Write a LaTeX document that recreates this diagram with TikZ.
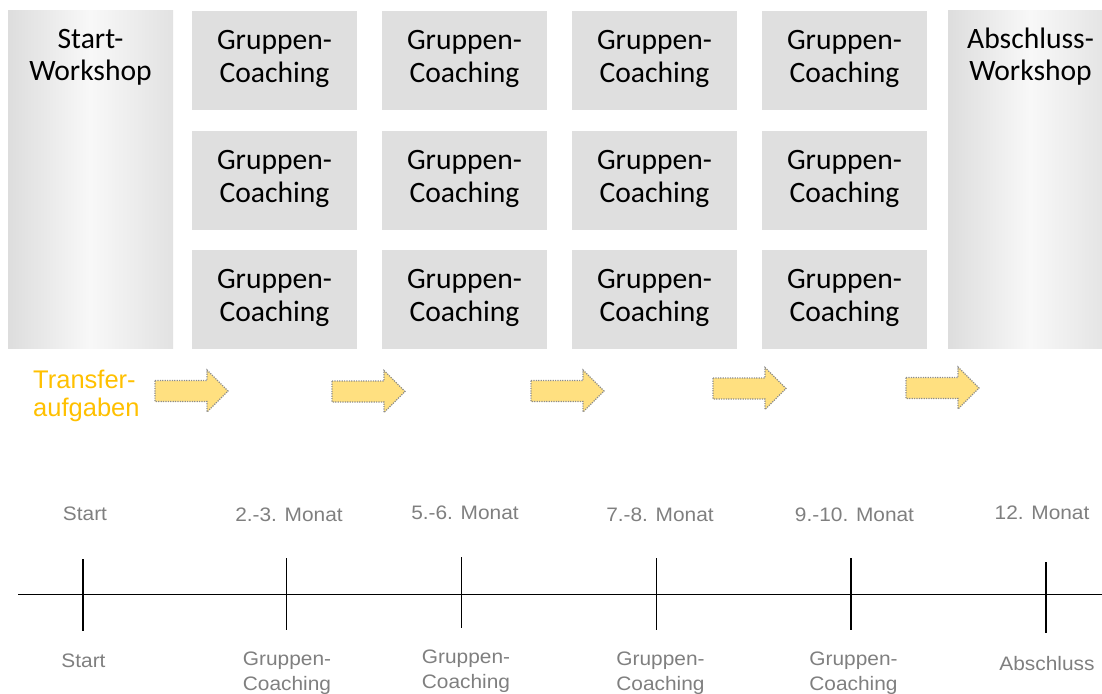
\documentclass[tikz,border=0pt]{standalone}
\usepackage{fontspec}
\setmainfont{Carlito}
\newfontfamily\arialS[FakeStretch=1.07]{Liberation Sans}
\newfontfamily\arialN{Liberation Sans}
\usetikzlibrary{calc}
\definecolor{boxgray}{RGB}{223,223,223}
\definecolor{arrowfill}{RGB}{255,224,128}
\definecolor{arrowline}{RGB}{140,140,140}
\definecolor{transor}{RGB}{255,192,0}
\definecolor{labelgray}{RGB}{127,127,127}
\definecolor{sideL}{RGB}{221,221,221}
\definecolor{sideR}{RGB}{226,226,226}
\definecolor{sideM}{RGB}{248,248,248}
\newcommand\twoline[2]{\begin{tabular}[t]{@{}c@{}}#1\\#2\end{tabular}}
\newcommand\twolineL[2]{\begin{tabular}[t]{@{}l@{}}#1\\#2\end{tabular}}
\newcommand\blockarr[3]{%
  \draw[tarrow, shift={(#2,#3)}] (0,-10.5) -- (52,-10.5) -- (52,-21) -- (73,0)
    -- (52,21) -- (52,10.5) -- (0,10.5) -- cycle;
  \coordinate (#1) at (#2,#3);}
\tikzset{
  gbox/.style={rectangle, fill=boxgray, draw=none, minimum width=165pt,
    minimum height=99pt, inner sep=0pt, outer sep=0pt},
  sidebox/.style={rectangle, left color=sideL, right color=sideR, middle color=sideM,
    draw=none, minimum width=165pt, minimum height=337pt, inner sep=0pt, outer sep=0pt},
  btxt/.style={anchor=base, inner sep=0pt, text=black, font=\fontsize{29.6}{32.5}\selectfont},
  tarrow/.style={fill=arrowfill, draw=arrowline, line width=1.2pt, dash pattern=on 1.2pt off 1.2pt},
  tlabel/.style={anchor=base, inner sep=0pt, text=labelgray, font=\arialS\fontsize{19.5}{25}\selectfont},
  ttext/.style={anchor=base west, inner sep=0pt, text=transor, font=\arialN\fontsize{25.5}{28.4}\selectfont},
  tickline/.style={line width=1.5pt, draw=black},
  axisline/.style={line width=1.5pt, draw=black},
}
\begin{document}
\begin{tikzpicture}[x=1pt, y=-1pt]
\path[use as bounding box] (0,0) rectangle (1102,693);
\clip (0,0) rectangle (1102,693);

% side workshops
\node[sidebox] (sw) at (90.5,179.5) {};
\node[btxt] (swt) at ($(sw.north)+(0,37.5)$) {\twoline{Start-}{Workshop}};
\node[sidebox] (aw) at (1030.5,179.5) {};
\node[btxt] (awt) at ($(aw.north)+(0,37.5)$) {\twoline{Abschluss-}{Workshop}};

% group coaching grid
\foreach \c/\x in {1/274.5,2/464.5,3/654.5,4/844.5}{
  \foreach \r/\y in {1/60.5,2/180.5,3/299.5}{
    \node[gbox] (g\c\r) at (\x,\y) {};
    \node[btxt] (t\c\r) at ($(g\c\r.north)+(0,38.5)$) {\twoline{Gruppen-}{Coaching}};
  }
}

% transfer tasks
\node[ttext] (tr) at (33,388.3) {\twolineL{Transfer-}{aufgaben}};
\blockarr{a1}{155}{391}
\blockarr{a2}{332}{391.5}
\blockarr{a3}{531}{391}
\blockarr{a4}{713}{388.5}
\blockarr{a5}{906}{388}

% timeline
\coordinate (ax0) at (18,594.5);
\coordinate (ax1) at (1102,594.5);
\draw[axisline] (ax0) -- (ax1);
\foreach \n/\x/\ya/\yb in {1/83/559/631, 2/286.5/558/630, 3/461.5/557/628,
    4/656.5/558/630, 5/851/558/630, 6/1046/562/633}{
  \coordinate (k\n t) at (\x,\ya);
  \coordinate (k\n b) at (\x,\yb);
  \draw[tickline] (k\n t) -- (k\n b);
}

% labels above
\node[tlabel] (l1) at (85,520) {Start};
\node[tlabel] (l2) at (289,521) {2.-3. Monat};
\node[tlabel] (l3) at (465,519) {5.-6. Monat};
\node[tlabel] (l4) at (660,521) {7.-8. Monat};
\node[tlabel] (l5) at (854.5,521) {9.-10. Monat};
\node[tlabel] (l6) at (1042,519) {12. Monat};

% labels below
\node[tlabel] (b1) at (83.5,667) {Start};
\node[tlabel] (b2) at (287,665) {\twoline{Gruppen-}{Coaching}};
\node[tlabel] (b3) at (466,663) {\twoline{Gruppen-}{Coaching}};
\node[tlabel] (b4) at (660.5,665) {\twoline{Gruppen-}{Coaching}};
\node[tlabel] (b5) at (853.5,665) {\twoline{Gruppen-}{Coaching}};
\node[tlabel] (b6) at (1047,670) {Abschluss};
\end{tikzpicture}
\end{document}
